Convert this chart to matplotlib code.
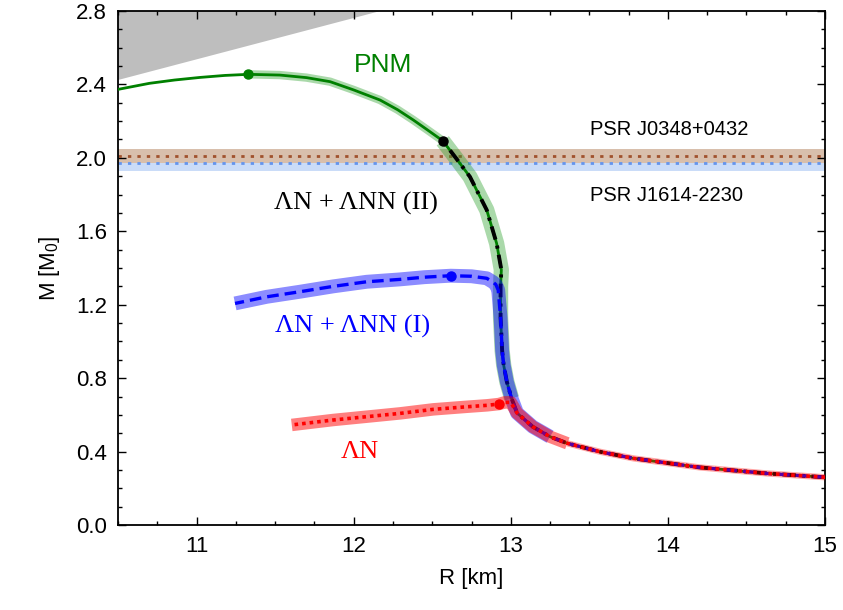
import matplotlib
matplotlib.use('Agg')
import matplotlib.pyplot as plt
from matplotlib.ticker import MultipleLocator, FormatStrFormatter

plt.rcParams['font.family'] = ['Liberation Sans', 'DejaVu Sans']
plt.rcParams['mathtext.fontset'] = 'custom'
plt.rcParams['mathtext.rm'] = 'Liberation Sans'

# shared low-mass branch (R in km, M in solar masses)
low_R = [15.0, 14.63, 14.2, 13.78, 13.568, 13.36, 13.25, 13.14, 13.04, 13.005, 12.975, 12.955, 12.945]
low_M = [0.26, 0.281, 0.314, 0.363, 0.399, 0.445, 0.481, 0.535, 0.61, 0.69, 0.78, 0.87, 0.95]

# PNM upper branch
pnm_R = [12.935, 12.935, 12.94, 12.91, 12.847, 12.74, 12.65, 12.567, 12.47, 12.38, 12.28, 12.168, 12.0, 11.85, 11.7, 11.53, 11.33, 11.18, 11.02, 10.86, 10.7, 10.5]
pnm_M = [1.13, 1.30, 1.39, 1.534, 1.716, 1.897, 2.00, 2.093, 2.152, 2.206, 2.262, 2.315, 2.37, 2.415, 2.437, 2.451, 2.455, 2.449, 2.438, 2.424, 2.406, 2.373]

# LN + LNN (II), follows PNM up to its maximum
ii_R = [12.935, 12.935, 12.94, 12.91, 12.847, 12.74, 12.65, 12.567]
ii_M = [1.13, 1.30, 1.39, 1.534, 1.716, 1.897, 2.00, 2.093]

# LN + LNN (I)
i_R = [12.935, 12.92, 12.905, 12.887, 12.847, 12.75, 12.618, 12.45, 12.295, 12.083, 11.87, 11.66, 11.446, 11.245]
i_M = [1.13, 1.28, 1.31, 1.323, 1.344, 1.355, 1.358, 1.35, 1.338, 1.325, 1.30, 1.271, 1.243, 1.207]

# LN
n_R = [13.0, 12.96, 12.925, 12.85, 12.72, 12.507, 12.295, 12.083, 11.87, 11.606]
n_M = [0.668, 0.668, 0.659, 0.652, 0.644, 0.630, 0.608, 0.590, 0.572, 0.545]

# maxima
max_R = [11.329, 12.567, 12.618, 12.925]
max_M = [2.455, 2.093, 1.358, 0.659]
max_col = ['green', 'black', 'blue', 'red']

# pulsar masses
psr_names = ['PSR J0348+0432', 'PSR J1614-2230']
psr_M = [2.01, 1.97]
psr_err = [0.04, 0.04]

# causality region
caus_R = [10.5, 10.5, 12.17]
caus_M = [2.8, 2.424, 2.8]

fig = plt.figure(figsize=(8.43, 6.1), dpi=100)
ax = fig.add_axes([118/843, 1-525/610, (825-118)/843, (525-11)/610])

ax.fill(caus_R, caus_M, color='#bebebe', lw=0, zorder=1)

ax.axhspan(psr_M[1]-psr_err[1], psr_M[1]+psr_err[1], color='#cadcf8', lw=0, zorder=1)
ax.axhspan(psr_M[0]-psr_err[0], psr_M[0]+psr_err[0], color='#d8bfac', lw=0, zorder=1)
ax.axhline(psr_M[0], color='#a0522d', ls=(0, (1.2, 2.2)), lw=2, zorder=2)
ax.axhline(psr_M[1], color='#6495ed', ls=(0, (1.2, 2.2)), lw=2, zorder=2)

full_pnm_R = low_R + pnm_R
full_pnm_M = low_M + pnm_M
full_ii_R = low_R + ii_R
full_ii_M = low_M + ii_M
full_i_R = low_R + i_R
full_i_M = low_M + i_M
full_n_R = low_R[:9] + n_R
full_n_M = low_M[:9] + n_M

# uncertainty bands
ax.plot(full_pnm_R[9:21], full_pnm_M[9:21], color='#2ca02c', alpha=0.4, lw=11, solid_capstyle='butt', zorder=3)
ax.plot(full_pnm_R[20:30], full_pnm_M[20:30], color='#2ca02c', alpha=0.4, lw=6, solid_capstyle='butt', zorder=3)
ax.plot(full_pnm_R, full_pnm_M, color='green', lw=2, zorder=4)
ax.plot(full_ii_R, full_ii_M, color='black', lw=2.8, ls=(0, (3.5, 1.6, 0.8, 1.6)), zorder=5)

ax.plot(full_i_R[6:], full_i_M[6:], color='blue', alpha=0.45, lw=10, solid_capstyle='butt', zorder=6)
ax.plot(full_i_R, full_i_M, color='blue', lw=2.4, ls=(0, (3.5, 1.8)), zorder=7)

ax.plot(full_n_R[5:], full_n_M[5:], color='red', alpha=0.5, lw=9, solid_capstyle='butt', zorder=8)
ax.plot(full_n_R[:6], full_n_M[:6], color='red', alpha=0.35, lw=4.5, solid_capstyle='butt', zorder=8)
ax.plot(full_n_R, full_n_M, color='red', lw=2.6, ls=(0, (1, 1.1)), zorder=9)

for r, m, c in zip(max_R, max_M, max_col):
    ax.plot(r, m, 'o', color=c, ms=6.5, zorder=10)

ax.text(12.19, 2.505, 'PNM', color='green', fontsize=19, ha='center', va='center')
ax.text(12.015, 1.754, 'ΛN + ΛNN (II)', color='black', fontsize=19, family='Liberation Serif', ha='center', va='center')
ax.text(11.996, 1.084, 'ΛN + ΛNN (I)', color='blue', fontsize=19, family='Liberation Serif', ha='center', va='center')
ax.text(12.04, 0.398, 'ΛN', color='red', fontsize=19, family='Liberation Serif', ha='center', va='center')
ax.text(13.504, 2.155, psr_names[0], fontsize=14.5, ha='left', va='center')
ax.text(13.504, 1.797, psr_names[1], fontsize=14.5, ha='left', va='center')

ax.set_xlim(10.5, 15)
ax.set_ylim(0, 2.8)
ax.xaxis.set_major_locator(MultipleLocator(1))
ax.xaxis.set_minor_locator(MultipleLocator(0.25))
ax.yaxis.set_major_locator(MultipleLocator(0.4))
ax.yaxis.set_minor_locator(MultipleLocator(0.1))
ax.yaxis.set_major_formatter(FormatStrFormatter('%.1f'))
ax.tick_params(which='both', direction='in', top=True, right=True, labelsize=16, width=1)
ax.tick_params(which='major', length=6, pad=8)
ax.tick_params(which='minor', length=3)
for s in ax.spines.values():
    s.set_linewidth(1.3)

ax.set_xlabel('R [km]', fontsize=16, labelpad=8)
ax.set_ylabel(r'M [M$_\mathregular{0}$]', fontsize=16, labelpad=10)

fig.savefig('out.png', dpi=100)
